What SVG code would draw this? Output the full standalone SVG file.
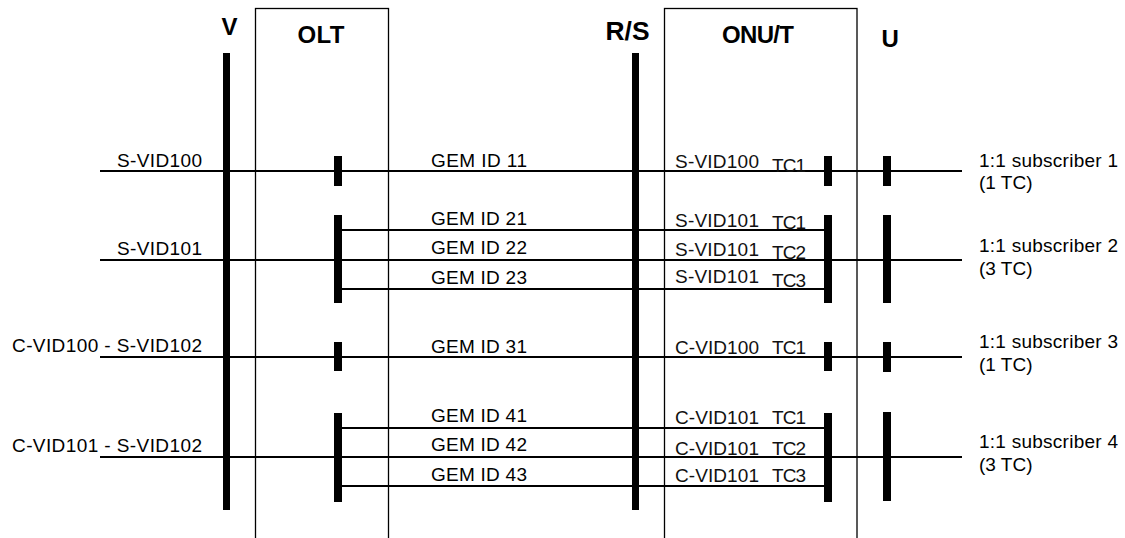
<svg xmlns="http://www.w3.org/2000/svg" width="1125" height="538" viewBox="0 0 1125 538">
<style>
text{font-family:"Liberation Sans",Arial,sans-serif;font-size:19px;fill:#000}
.t{font-weight:bold;font-size:24px}
.o{fill:#111}
.box{fill:none;stroke:#000;stroke-width:1.3}
.ln{stroke:#000;stroke-width:2;fill:none}
.bar{fill:#000}
</style>
<rect x="0" y="0" width="1125" height="538" fill="#fff"/>
<g id="connectors">
<path class="ln" d="M100 171H962M342 230H824M100 260H962M342 289H824M100 357H962M342 428H824M100 457H962M342 486H824"/>
</g>
<g id="V">
<rect class="bar" x="223" y="53" width="7" height="457"/>
<text class="t" x="221.5" y="35">V</text>
</g>
<g id="OLT">
<rect class="box" x="255.5" y="8.5" width="133" height="540"/>
<text class="t" x="297.5" y="43" textLength="47">OLT</text>
<rect class="bar" x="334" y="156" width="8" height="30"/>
<rect class="bar" x="334" y="215" width="8" height="88"/>
<rect class="bar" x="334" y="342" width="8" height="29"/>
<rect class="bar" x="334" y="413" width="8" height="89"/>
</g>
<g id="RS">
<rect class="bar" x="632" y="53" width="7" height="457"/>
<text class="t" x="605.5" y="39.5" style="font-size:26px" textLength="44" lengthAdjust="spacingAndGlyphs">R/S</text>
</g>
<g id="ONU">
<rect class="box" x="664.5" y="8.5" width="192.5" height="540"/>
<text class="t" x="722" y="43" textLength="72">ONU/T</text>
<rect class="bar" x="824" y="156" width="8" height="30"/>
<rect class="bar" x="824" y="215" width="8" height="88"/>
<rect class="bar" x="824" y="342" width="8" height="29"/>
<rect class="bar" x="824" y="413" width="8" height="89"/>
</g>
<g id="U">
<text class="t" x="881.5" y="46.5">U</text>
<rect class="bar" x="883" y="156" width="8" height="30"/>
<rect class="bar" x="883" y="215" width="8" height="88"/>
<rect class="bar" x="883" y="342" width="8" height="30"/>
<rect class="bar" x="883" y="412" width="8" height="89"/>
</g>
<g id="vlan-labels" text-anchor="end">
<text x="202" y="167" textLength="85">S-VID100</text>
<text x="202" y="255" textLength="85">S-VID101</text>
<text x="202" y="352" textLength="190">C-VID100 - S-VID102</text>
<text x="202" y="452" textLength="190">C-VID101 - S-VID102</text>
</g>
<g id="gem-labels">
<text x="431" y="167" textLength="96">GEM ID 11</text>
<text x="431" y="225" textLength="96">GEM ID 21</text>
<text x="431" y="254" textLength="96">GEM ID 22</text>
<text x="431" y="284" textLength="96">GEM ID 23</text>
<text x="431" y="353" textLength="96">GEM ID 31</text>
<text x="431" y="422" textLength="96">GEM ID 41</text>
<text x="431" y="451" textLength="96">GEM ID 42</text>
<text x="431" y="481" textLength="96">GEM ID 43</text>
</g>
<g id="onu-labels" class="o">
<text class="o" x="675" y="167.5" textLength="84">S-VID100</text><text class="o" x="772" y="171.5" textLength="34">TC1</text>
<text class="o" x="675" y="226.5" textLength="84">S-VID101</text><text class="o" x="772" y="228.5" textLength="34">TC1</text>
<text class="o" x="675" y="256" textLength="84">S-VID101</text><text class="o" x="772" y="258.5" textLength="34">TC2</text>
<text class="o" x="675" y="283" textLength="84">S-VID101</text><text class="o" x="772" y="287" textLength="34">TC3</text>
<text class="o" x="675" y="354" textLength="84">C-VID100</text><text class="o" x="772" y="354" textLength="34">TC1</text>
<text class="o" x="675" y="424" textLength="84">C-VID101</text><text class="o" x="772" y="424" textLength="34">TC1</text>
<text class="o" x="675" y="455" textLength="84">C-VID101</text><text class="o" x="772" y="455" textLength="34">TC2</text>
<text class="o" x="675" y="482" textLength="84">C-VID101</text><text class="o" x="772" y="482" textLength="34">TC3</text>
</g>
<g id="subscribers">
<text x="979" y="167" textLength="139">1:1 subscriber 1</text><text x="979" y="189">(1 TC)</text>
<text x="979" y="252" textLength="139">1:1 subscriber 2</text><text x="979" y="275">(3 TC)</text>
<text x="979" y="348" textLength="139">1:1 subscriber 3</text><text x="979" y="371">(1 TC)</text>
<text x="979" y="448" textLength="139">1:1 subscriber 4</text><text x="979" y="471">(3 TC)</text>
</g>
</svg>
